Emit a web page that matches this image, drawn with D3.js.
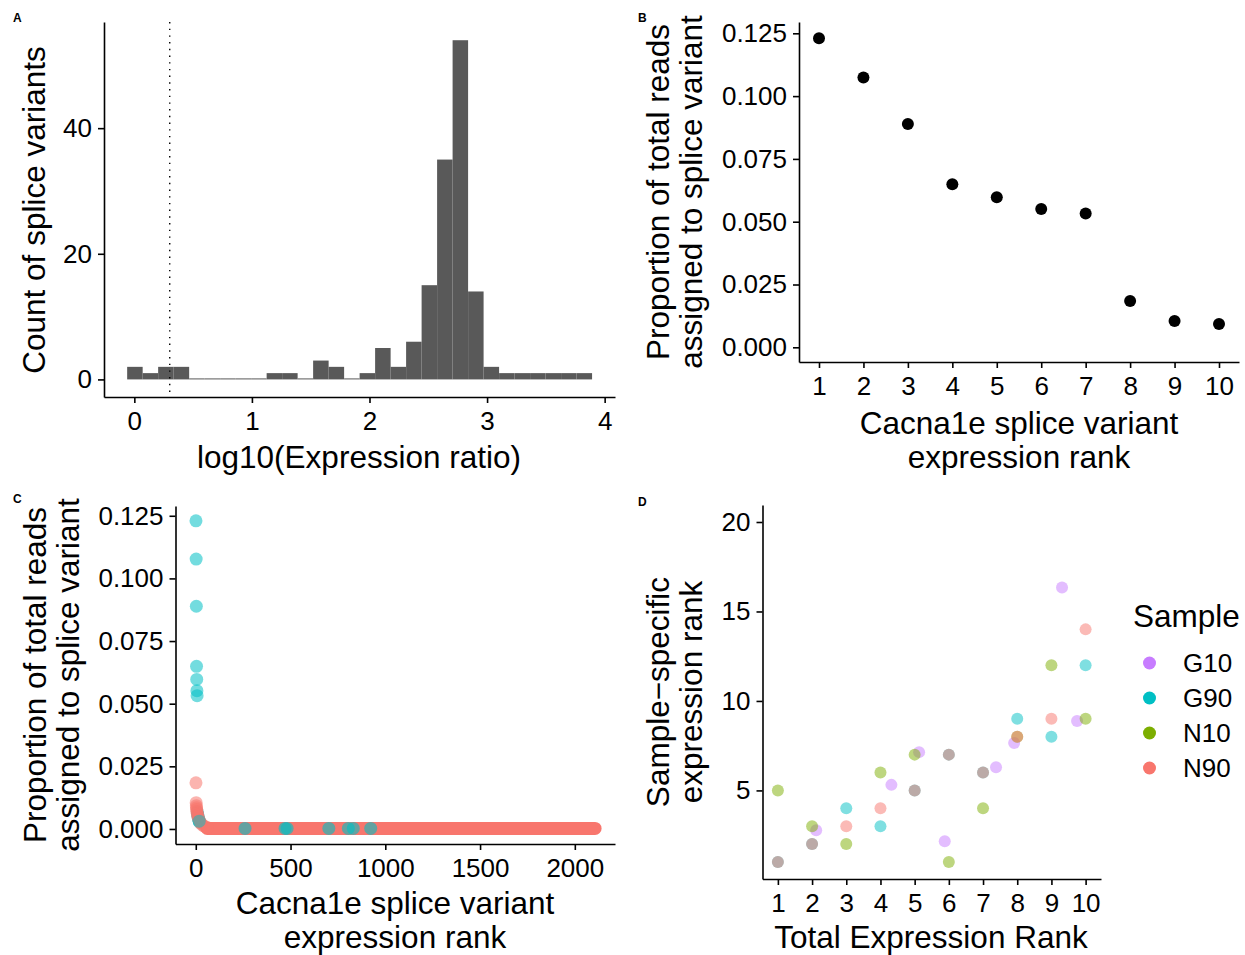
<!DOCTYPE html>
<html>
<head>
<meta charset="utf-8">
<script src="https://cdn.jsdelivr.net/npm/d3@7"></script>
<style>
  body { margin: 0; background: #fff; }
  text { font-family: "Liberation Sans", Arial, Helvetica, sans-serif; }
</style>
</head>
<body>
<div id="chart"></div>
<script>
// ---- data ----

// A: histogram of log10(expression ratio), 30 bins
var histCounts = [2, 1, 2, 2, 0, 0, 0, 0, 0, 1, 1, 0, 3, 2, 0, 1, 5, 2, 6, 15, 35, 54, 14, 2, 1, 1, 1, 1, 1, 1];
var histBinStart = -0.061;
var histBinWidth = 0.1318;
var cutoffRatio = 2;               // dotted line drawn at log10(2)
var aTicksX = [0, 1, 2, 3, 4];
var aTicksY = [0, 20, 40];

// B: top ten splice variants
var topRanks = [1, 2, 3, 4, 5, 6, 7, 8, 9, 10];
var topProps = [0.1230, 0.1074, 0.0889, 0.0649, 0.0597, 0.0551, 0.0533, 0.0184, 0.0105, 0.0093];
var propTicks = [0, 0.025, 0.05, 0.075, 0.1, 0.125];

// samples
var sampleNames = ["G10", "G90", "N10", "N90"];
var sampleColors = ["#C77CFF", "#00BFC4", "#7CAE00", "#F8766D"];

// C: proportion vs rank, visible head points per sample
var g90HeadRanks = [1, 2, 3, 4, 5, 6, 7, 8, 10, 12, 14, 16, 18, 20];
var g90HeadProps = [0.1230, 0.1077, 0.0889, 0.0649, 0.0597, 0.0552, 0.0532, 0.0068, 0.0058, 0.0050, 0.0043, 0.0037, 0.0031, 0.0027];
var n90HeadRanks = [1, 2, 3, 4, 5, 6, 8, 10, 12, 15, 20, 25, 30, 40, 50, 60];
var n90HeadProps = [0.0184, 0.0105, 0.0093, 0.0085, 0.0078, 0.0070, 0.0062, 0.0055, 0.0048, 0.0040, 0.0032, 0.0025, 0.0019, 0.0013, 0.0009, 0.0006];
// long near-zero tail of N90 (dense run of points)
var n90TailFrom = 60, n90TailTo = 2107, tailProp = 0.0002;
// G90 points visible inside the tail
var g90TailRanks = [260, 471, 482, 702, 805, 831, 923];
var cTicksX = [0, 500, 1000, 1500, 2000];

// D: total rank vs sample-specific rank
var dTotalRank = {
  G10: [2.12, 4.32, 5.13, 5.88, 7.38, 7.91, 9.31, 9.75],
  G90: [1, 2, 3, 4, 5, 6, 7, 8, 9, 10],
  N10: [1, 2, 3, 4, 5, 6, 7, 8, 9, 10],
  N90: [1, 2, 3, 4, 5, 6, 7, 8, 9, 10]
};
var dSampleRank = {
  G10: [2.77, 5.31, 7.14, 2.16, 6.30, 7.65, 16.34, 8.88],
  G90: [1, 2, 4, 3, 5, 7, 6, 9, 8, 12],
  N10: [5, 3, 2, 6, 7, 1, 4, 8, 12, 9],
  N90: [1, 2, 3, 4, 5, 7, 6, 8, 9, 14]
};
var dTicksY = [5, 10, 15, 20];

// ---- stage ----
var svgWidth = 1245;
var svgHeight = 955;
var tickFont = 26;
var titleFont = 31.5;

var svg = d3.select("#chart")
  .append("svg")
  .attr("width", svgWidth)
  .attr("height", svgHeight);

function styleAxis(g) {
  g.attr("font-size", tickFont)
    .attr("font-family", "Liberation Sans, Arial, sans-serif");
  g.select(".domain").attr("stroke", "#000").attr("stroke-width", 1.6);
  g.selectAll(".tick line").attr("stroke", "#000").attr("stroke-width", 1.6);
  g.selectAll(".tick text").attr("fill", "#000");
}

function drawAxes(x, y, xTicks, yTicks, yFormat) {
  var xAxis = svg.append("g")
    .attr("transform", `translate(0, ${y.range()[0]})`)
    .call(d3.axisBottom(x).tickValues(xTicks).tickSizeInner(6).tickSizeOuter(0).tickPadding(9)
      .tickFormat(d3.format("d")));
  styleAxis(xAxis);
  var yAxis = svg.append("g")
    .attr("transform", `translate(${x.range()[0]}, 0)`)
    .call(d3.axisLeft(y).tickValues(yTicks).tickSizeInner(6).tickSizeOuter(0).tickPadding(6)
      .tickFormat(yFormat || d3.format("d")));
  styleAxis(yAxis);
}

function xTitle(lines, cx, baseline) {
  lines.forEach(function(t, i) {
    svg.append("text")
      .attr("x", cx)
      .attr("y", baseline + i * 34)
      .attr("text-anchor", "middle")
      .attr("font-size", titleFont)
      .text(t);
  });
}

function yTitle(lines, baselineX, cy) {
  lines.forEach(function(t, i) {
    svg.append("text")
      .attr("transform", `translate(${baselineX + i * 33}, ${cy}) rotate(-90)`)
      .attr("text-anchor", "middle")
      .attr("font-size", titleFont)
      .text(t);
  });
}

function panelTag(label, x, y) {
  svg.append("text")
    .attr("x", x).attr("y", y)
    .attr("font-size", 12)
    .attr("font-weight", "bold")
    .text(label);
}

// ---- A: histogram ----
var xA = d3.scaleLinear().domain([-0.258, 4.088]).range([104, 615]);
var yA = d3.scaleLinear().domain([-2.8, 56.9]).range([397, 22]);

svg.append("g").selectAll("rect")
  .data(histCounts)
  .enter()
  .append("rect")
  .attr("x", (d, i) => xA(histBinStart + i * histBinWidth))
  .attr("width", (d, i) => xA(histBinStart + (i + 1) * histBinWidth) - xA(histBinStart + i * histBinWidth))
  .attr("y", d => d > 0 ? yA(d) : yA(0) - 1)
  .attr("height", d => d > 0 ? yA(0) - yA(d) : 1)
  .attr("fill", "#595959");

svg.append("line")
  .attr("x1", xA(Math.log10(cutoffRatio)))
  .attr("x2", xA(Math.log10(cutoffRatio)))
  .attr("y1", yA.range()[1])
  .attr("y2", yA.range()[0])
  .attr("stroke", "#000")
  .attr("stroke-width", 1.4)
  .attr("stroke-dasharray", "1.4,5.3");

drawAxes(xA, yA, aTicksX, aTicksY);
xTitle(["log10(Expression ratio)"], 359, 468);
yTitle(["Count of splice variants"], 45, 210);
panelTag("A", 13, 22);

// ---- B: top ten ----
var xB = d3.scaleLinear().domain([0.55, 10.45]).range([799, 1239]);
var yB = d3.scaleLinear().domain([-0.00585, 0.1295]).range([362, 22]);

svg.append("g").selectAll("circle")
  .data(topRanks)
  .enter()
  .append("circle")
  .attr("cx", d => xB(d))
  .attr("cy", (d, i) => yB(topProps[i]))
  .attr("r", 6)
  .attr("fill", "#000");

drawAxes(xB, yB, topRanks, propTicks, d3.format(".3f"));
xTitle(["Cacna1e splice variant", "expression rank"], 1019, 434);
yTitle(["Proportion of total reads", "assigned to splice variant"], 669, 192);
panelTag("B", 638, 22);

// ---- C: all ranks ----
var xC = d3.scaleLinear().domain([-107, 2212]).range([175.5, 615]);
var yC = d3.scaleLinear().domain([-0.006, 0.1289]).range([844, 506]);
var cAlpha = 0.55;

// G90 head first, then N90 head and its dense tail
svg.append("g").selectAll("circle")
  .data(g90HeadRanks)
  .enter()
  .append("circle")
  .attr("cx", d => xC(d))
  .attr("cy", (d, i) => yC(g90HeadProps[i]))
  .attr("r", 6.5)
  .attr("fill", sampleColors[1])
  .attr("fill-opacity", cAlpha);

svg.append("line")
  .attr("x1", xC(n90TailFrom))
  .attr("x2", xC(n90TailTo))
  .attr("y1", yC(tailProp))
  .attr("y2", yC(tailProp))
  .attr("stroke", sampleColors[3])
  .attr("stroke-width", 13)
  .attr("stroke-linecap", "round");

svg.append("g").selectAll("circle")
  .data(n90HeadRanks)
  .enter()
  .append("circle")
  .attr("cx", d => xC(d))
  .attr("cy", (d, i) => yC(n90HeadProps[i]))
  .attr("r", 6.5)
  .attr("fill", sampleColors[3])
  .attr("fill-opacity", cAlpha);

svg.append("g").selectAll("circle")
  .data(g90TailRanks)
  .enter()
  .append("circle")
  .attr("cx", d => xC(d))
  .attr("cy", yC(tailProp))
  .attr("r", 6.5)
  .attr("fill", sampleColors[1])
  .attr("fill-opacity", 0.6);

svg.append("circle")
  .attr("cx", xC(g90HeadRanks[12]))
  .attr("cy", yC(g90HeadProps[12]))
  .attr("r", 6.5)
  .attr("fill", sampleColors[1])
  .attr("fill-opacity", 0.5);

drawAxes(xC, yC, cTicksX, propTicks, d3.format(".3f"));
xTitle(["Cacna1e splice variant", "expression rank"], 395, 914);
yTitle(["Proportion of total reads", "assigned to splice variant"], 46, 675);
panelTag("C", 13, 503);

// ---- D: sample-specific rank ----
var xD = d3.scaleLinear().domain([0.55, 10.45]).range([762.5, 1101]);
var yD = d3.scaleLinear().domain([0.05, 20.95]).range([879, 505]);

sampleNames.forEach(function(s, k) {
  svg.append("g").selectAll("circle")
    .data(dTotalRank[s])
    .enter()
    .append("circle")
    .attr("cx", d => xD(d))
    .attr("cy", (d, i) => yD(dSampleRank[s][i]))
    .attr("r", 6)
    .attr("fill", sampleColors[k])
    .attr("fill-opacity", 0.5);
});

drawAxes(xD, yD, topRanks, dTicksY);
xTitle(["Total Expression Rank"], 931, 948);
yTitle(["Sample\u2212specific", "expression rank"], 669, 692);
panelTag("D", 638, 506);

// legend
var legend = svg.append("g").attr("transform", "translate(1133, 0)");
legend.append("text")
  .attr("x", 0).attr("y", 627)
  .attr("font-size", titleFont)
  .text("Sample");
var keys = legend.selectAll(".key")
  .data(sampleNames)
  .enter()
  .append("g")
  .attr("transform", (d, i) => `translate(0, ${663 + i * 35})`);
keys.append("circle")
  .attr("cx", 16.5).attr("cy", 0).attr("r", 6.5)
  .attr("fill", (d, i) => sampleColors[i]);
keys.append("text")
  .attr("x", 50).attr("y", 9)
  .attr("font-size", tickFont)
  .text(d => d);
</script>
</body>
</html>
